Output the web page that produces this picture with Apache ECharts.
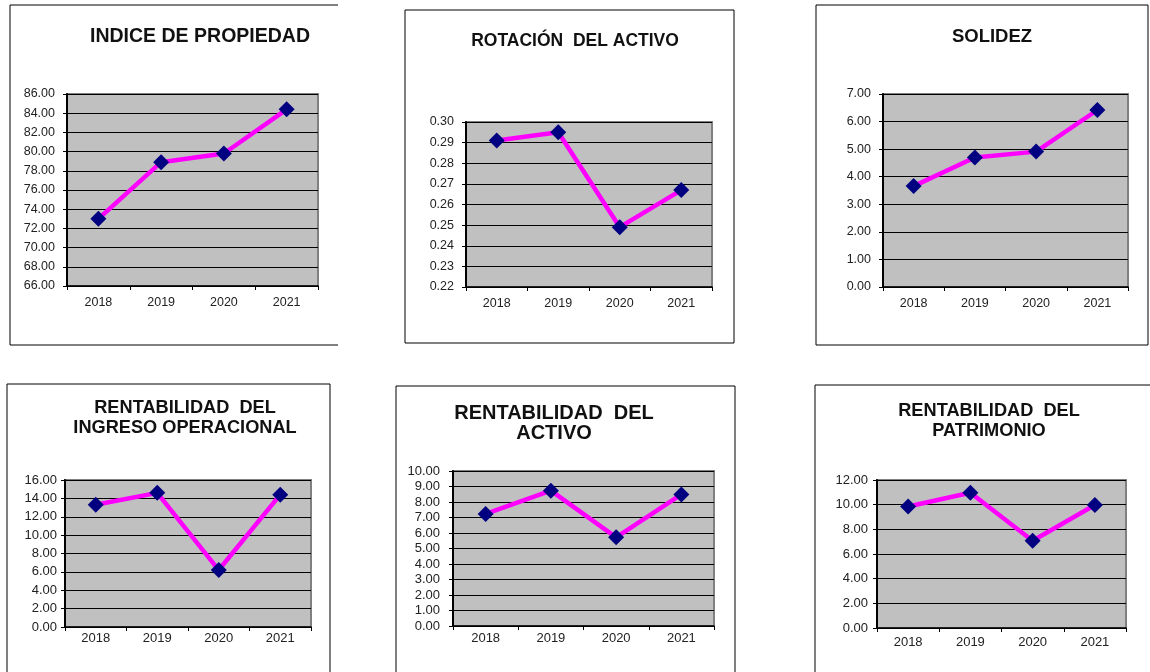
<!DOCTYPE html>
<html>
<head>
<meta charset="utf-8">
<script src="https://cdn.jsdelivr.net/npm/echarts@6/dist/echarts.min.js"></script>
<style>
  html, body { margin: 0; padding: 0; background: #fff; }
  #container1 { width: 1150px; height: 672px; }
</style>
</head>
<body>
<div id="container1"></div>
<script>
// datos
var years = ['2018', '2019', '2020', '2021'];
var propiedad = [73.0, 78.9, 79.8, 84.4];
var rotacion = [0.291, 0.295, 0.249, 0.267];
var solidez = [3.66, 4.70, 4.91, 6.42];
var rentIngreso = [13.3, 14.6, 6.2, 14.4];
var rentActivo = [7.23, 8.73, 5.72, 8.49];
var rentPatrimonio = [9.85, 10.97, 7.08, 9.97];

// escalas de cada eje Y
var ejes = [
  {min: 66, max: 86, interval: 2},
  {min: 0.22, max: 0.30, interval: 0.01},
  {min: 0, max: 7, interval: 1},
  {min: 0, max: 16, interval: 2},
  {min: 0, max: 10, interval: 1},
  {min: 0, max: 12, interval: 2}
];

var paneles = [
  {data: propiedad, grid: [67, 94, 251, 192], ym: 12, xm: 10, lf: 12.5, title: ['INDICE DE PROPIEDAD'], tx: 200, ty: 37, fs: 19.5},
  {data: rotacion, grid: [466, 122, 246, 165], ym: 12, xm: 10, lf: 12.5, title: ['ROTACIÓN  DEL ACTIVO'], tx: 575, ty: 41, fs: 17.5},
  {data: solidez, grid: [883, 94, 245, 193], ym: 12, xm: 10, lf: 12.5, title: ['SOLIDEZ'], tx: 992, ty: 37, fs: 18.5},
  {data: rentIngreso, grid: [65, 480, 246, 147], ym: 8, xm: 5, lf: 13, title: ['RENTABILIDAD  DEL', 'INGRESO OPERACIONAL'], tx: 185, ty: 408, fs: 18.2},
  {data: rentActivo, grid: [453, 471, 261, 155], ym: 13, xm: 6, lf: 13, title: ['RENTABILIDAD  DEL', 'ACTIVO'], tx: 554, ty: 413, fs: 20},
  {data: rentPatrimonio, grid: [877, 480, 249, 148], ym: 9, xm: 8, lf: 13, title: ['RENTABILIDAD  DEL', 'PATRIMONIO'], tx: 989, ty: 411, fs: 18.2}
];

var grids = [], xAxes = [], yAxes = [], series = [], graficos = [];

// marcos de cada grafico
graficos.push({type: 'polyline', shape: {points: [[338, 5], [10, 5], [10, 345], [338, 345]]}, style: {stroke: '#000', fill: null, lineWidth: 1}});
graficos.push({type: 'rect', shape: {x: 405, y: 10, width: 329, height: 333}, style: {stroke: '#000', fill: null, lineWidth: 1}});
graficos.push({type: 'rect', shape: {x: 816, y: 5, width: 332, height: 340}, style: {stroke: '#000', fill: null, lineWidth: 1}});
graficos.push({type: 'rect', shape: {x: 7, y: 384, width: 323, height: 300}, style: {stroke: '#000', fill: null, lineWidth: 1}});
graficos.push({type: 'rect', shape: {x: 396, y: 386, width: 339, height: 300}, style: {stroke: '#000', fill: null, lineWidth: 1}});
graficos.push({type: 'rect', shape: {x: 815, y: 385, width: 360, height: 300}, style: {stroke: '#000', fill: null, lineWidth: 1}});

paneles.forEach(function (p, i) {
  grids.push({
    left: p.grid[0], top: p.grid[1], width: p.grid[2], height: p.grid[3],
    show: true, backgroundColor: '#c0c0c0', borderColor: '#808080', borderWidth: 2
  });
  xAxes.push({
    type: 'category', gridIndex: i, data: years, boundaryGap: true,
    axisLine: {lineStyle: {color: '#000', width: 1.5}},
    axisTick: {show: true, length: 4, lineStyle: {color: '#000'}},
    axisLabel: {color: '#222', fontSize: p.lf, fontFamily: 'Liberation Sans', margin: p.xm}
  });
  yAxes.push({
    type: 'value', gridIndex: i, min: ejes[i].min, max: ejes[i].max, interval: ejes[i].interval,
    axisLine: {show: true, lineStyle: {color: '#000', width: 2}},
    axisTick: {show: true, length: 4, lineStyle: {color: '#000'}},
    splitLine: {show: true, lineStyle: {color: '#000', width: 1}},
    axisLabel: {
      color: '#222', fontSize: p.lf, fontFamily: 'Liberation Sans', margin: p.ym,
      formatter: function (v) { return v.toFixed(2); }
    }
  });
  series.push({
    type: 'line', xAxisIndex: i, yAxisIndex: i, data: p.data,
    symbol: 'diamond', symbolSize: 16,
    itemStyle: {color: '#000080'},
    lineStyle: {color: '#ff00ff', width: 4.5},
    z: 3
  });
  graficos.push({
    type: 'text', x: p.tx, y: p.ty + (p.title.length > 1 ? 10 : 0),
    style: {
      text: p.title.join('\n'), align: 'center', verticalAlign: 'middle',
      font: 'bold ' + p.fs + 'px "Liberation Sans"', fill: '#111', lineHeight: 20
    }
  });
});

var myChart = echarts.init(document.getElementById('container1'));
var option = {
  animation: false,
  grid: grids,
  xAxis: xAxes,
  yAxis: yAxes,
  series: series,
  graphic: graficos
};
myChart.setOption(option, true);
</script>
</body>
</html>
